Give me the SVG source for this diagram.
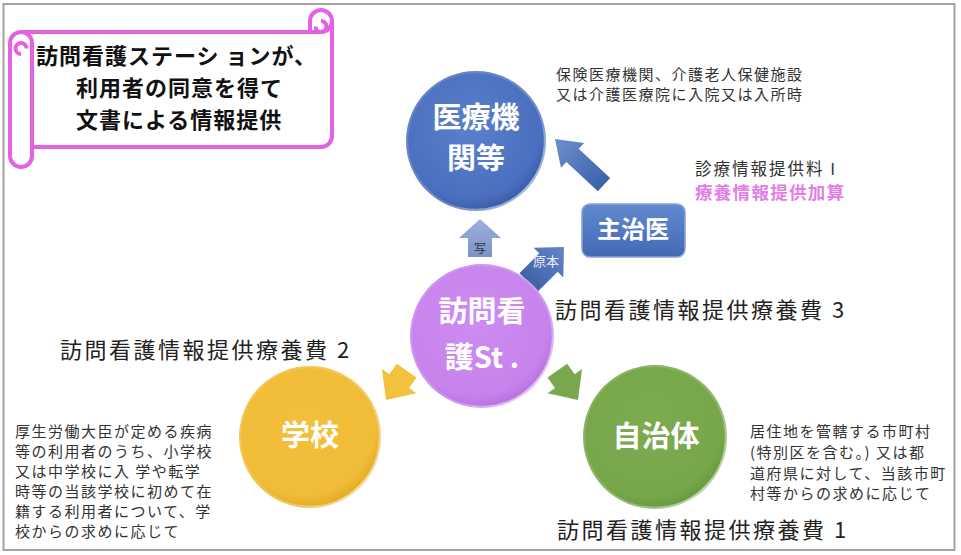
<svg xmlns="http://www.w3.org/2000/svg" width="961" height="555" viewBox="0 0 961 555">
<style>
.jp{font-family:"Noto Sans CJK JP","Noto Sans",sans-serif}
.note{font-family:"Noto Sans CJK JP","Noto Sans",sans-serif;font-size:15px;fill:#333;letter-spacing:1.5px}
.fee{font-family:"Noto Sans CJK JP","Noto Sans",sans-serif;font-size:22px;fill:#222;letter-spacing:2.5px}
.ctext{font-family:"Noto Sans CJK JP","Noto Sans",sans-serif;font-size:29px;font-weight:bold;fill:#fff;text-anchor:middle}
.rim{fill:none;stroke-width:2.5}
</style>
<defs>
<radialGradient id="gBlue" cx="45%" cy="40%" r="60%"><stop offset="0" stop-color="#5a80cc"/><stop offset="0.85" stop-color="#4a6fbe"/><stop offset="1" stop-color="#3a5ea8"/></radialGradient>
<radialGradient id="gPurple" cx="45%" cy="40%" r="60%"><stop offset="0" stop-color="#cd8cf2"/><stop offset="0.85" stop-color="#c683ec"/><stop offset="1" stop-color="#b872e0"/></radialGradient>
<radialGradient id="gYellow" cx="45%" cy="40%" r="60%"><stop offset="0" stop-color="#f3c03c"/><stop offset="0.85" stop-color="#f1bc38"/><stop offset="1" stop-color="#e4aa25"/></radialGradient>
<radialGradient id="gGreen" cx="45%" cy="40%" r="60%"><stop offset="0" stop-color="#7cac4f"/><stop offset="0.85" stop-color="#77a74a"/><stop offset="1" stop-color="#689a3e"/></radialGradient>
<linearGradient id="gRim" x1="0" y1="0" x2="1" y2="1"><stop offset="0" stop-color="#fff" stop-opacity="0.1"/><stop offset="0.6" stop-color="#fff" stop-opacity="0.2"/><stop offset="1" stop-color="#fff" stop-opacity="0.75"/></linearGradient>
<linearGradient id="gBox" x1="0" y1="0" x2="0" y2="1"><stop offset="0" stop-color="#6189cf"/><stop offset="1" stop-color="#4369b3"/></linearGradient>
<linearGradient id="gArrowBlue" x1="0" y1="0" x2="1" y2="0"><stop offset="0" stop-color="#3b62aa"/><stop offset="1" stop-color="#6d8fce"/></linearGradient>
<linearGradient id="gArrowLight" x1="0" y1="0" x2="0" y2="1"><stop offset="0" stop-color="#9cb0dc"/><stop offset="1" stop-color="#7b93c8"/></linearGradient>
<linearGradient id="gArrowMid" x1="0" y1="0" x2="1" y2="0"><stop offset="0" stop-color="#3f63a8"/><stop offset="1" stop-color="#6585c6"/></linearGradient>
</defs>

<rect x="3.5" y="4" width="951" height="546" fill="#fff" stroke="#a3a3a3" stroke-width="2"/>

<g id="title-scroll">
<path d="M10,43 A11,11 0 0 1 21,32 L310,32 L310,21 A11,11 0 0 1 332,21 L332,136 A11,11 0 0 1 321,147 L32,147 L32,156 A11,11 0 0 1 10,156 Z" fill="#fff" stroke="#e460e4" stroke-width="4" stroke-linejoin="round"/>
<path d="M21,32 A11,11 0 0 1 32,43 L32,147" fill="none" stroke="#e460e4" stroke-width="4"/>
<path d="M21,54 A5.5,5.5 0 0 1 21,43 A5.5,5.5 0 0 1 26.5,48.5" fill="none" stroke="#e460e4" stroke-width="4"/>
<path d="M332,21 A11,11 0 0 1 321,32 L310,32" fill="none" stroke="#e460e4" stroke-width="4"/>
<path d="M321,21 A5.5,5.5 0 0 1 326.5,26.5 A5.5,5.5 0 0 1 315.5,26.5" fill="none" stroke="#e460e4" stroke-width="4"/>
<text class="jp" font-size="22" font-weight="bold" fill="#111" letter-spacing="1"><tspan x="36" y="64">訪問看護ステーシ ョンが、</tspan><tspan x="76" y="96">利用者の同意を得て</tspan><tspan x="76" y="128">文書による情報提供</tspan></text>
</g>

<g id="connectors">
<polygon points="0,0 -24,-17 -24,-9 -67,-9 -67,9 -24,9 -24,17" fill="url(#gArrowBlue)" transform="translate(555,139) rotate(-137)"/>
<g id="arrow-copy">
<polygon points="480,219 501,238 492,238 492,257 468,257 468,238 459,238" fill="url(#gArrowLight)"/>
<text class="jp" x="480" y="253" font-size="12" fill="#333" text-anchor="middle">写</text>
</g>
<g id="arrow-original">
<polygon points="0,0 -22,-21 -22,-13 -50,-13 -50,13 -22,13 -22,21" fill="url(#gArrowMid)" transform="translate(564,247) rotate(-45)"/>
<text class="jp" x="546" y="266" font-size="13" fill="#e6ecf8" text-anchor="middle">原本</text>
</g>
<polygon points="0,0 -23,-21 -23,-12 -36,-12 -36,12 -23,12 -23,21" fill="#78a84b" transform="translate(578,400) rotate(55)"/>
<polygon points="0,0 -23,-21 -23,-12 -36,-12 -36,12 -23,12 -23,21" fill="#f2c23e" transform="translate(386,400) rotate(125)"/>
</g>

<g id="node-iryou">
<circle cx="476" cy="141" r="70" fill="url(#gBlue)"/>
<circle cx="476" cy="141" r="69" class="rim" stroke="url(#gRim)"/>
<text class="ctext" x="476" y="128">医療機</text>
<text class="ctext" x="476" y="169">関等</text>
</g>

<g id="node-shujii">
<rect x="582" y="204" width="103" height="53" rx="8" fill="url(#gBox)" stroke="#86a4dc" stroke-width="1.5"/>
<text class="jp" x="633" y="238" font-size="24" font-weight="bold" fill="#fff" text-anchor="middle">主治医</text>
</g>

<g id="node-station">
<circle cx="482" cy="336" r="72" fill="url(#gPurple)"/>
<circle cx="482" cy="336" r="71" class="rim" stroke="url(#gRim)"/>
<text class="ctext" x="482" y="322">訪問看</text>
<text class="ctext" x="482" y="368">護St .</text>
</g>

<g id="node-school">
<circle cx="310" cy="437" r="71" fill="url(#gYellow)"/>
<circle cx="310" cy="437" r="70" class="rim" stroke="url(#gRim)"/>
<text class="ctext" x="310" y="446">学校</text>
</g>

<g id="node-jichitai">
<circle cx="655" cy="437" r="72" fill="url(#gGreen)"/>
<circle cx="655" cy="437" r="71" class="rim" stroke="url(#gRim)"/>
<text class="ctext" x="656" y="447">自治体</text>
</g>

<g id="labels">
<text class="note"><tspan x="556" y="80">保険医療機関、介護老人保健施設</tspan><tspan x="556" y="100">又は介護医療院に入院又は入所時</tspan></text>
<text class="jp" x="695" y="175" font-size="16.5" fill="#333" letter-spacing="2">診療情報提供料 I</text>
<text class="jp" x="695" y="199" font-size="17.5" font-weight="bold" fill="#e27de6" letter-spacing="1.3">療養情報提供加算</text>
<text class="fee" x="555" y="318">訪問看護情報提供療養費 3</text>
<text class="fee" x="60" y="358">訪問看護情報提供療養費 2</text>
<text class="fee" x="557" y="538">訪問看護情報提供療養費 1</text>
<text class="note"><tspan x="15" y="437">厚生労働大臣が定める疾病</tspan><tspan x="15" y="457">等の利用者のうち、小学校</tspan><tspan x="15" y="477">又は中学校に入 学や転学</tspan><tspan x="15" y="497">時等の当該学校に初めて在</tspan><tspan x="15" y="517">籍する利用者について、学</tspan><tspan x="15" y="537">校からの求めに応じて</tspan></text>
<text class="note"><tspan x="750" y="437">居住地を管轄する市町村</tspan><tspan x="750" y="458">(特別区を含む。) 又は都</tspan><tspan x="750" y="479">道府県に対して、当該市町</tspan><tspan x="750" y="499">村等からの求めに応じて</tspan></text>
</g>
</svg>
